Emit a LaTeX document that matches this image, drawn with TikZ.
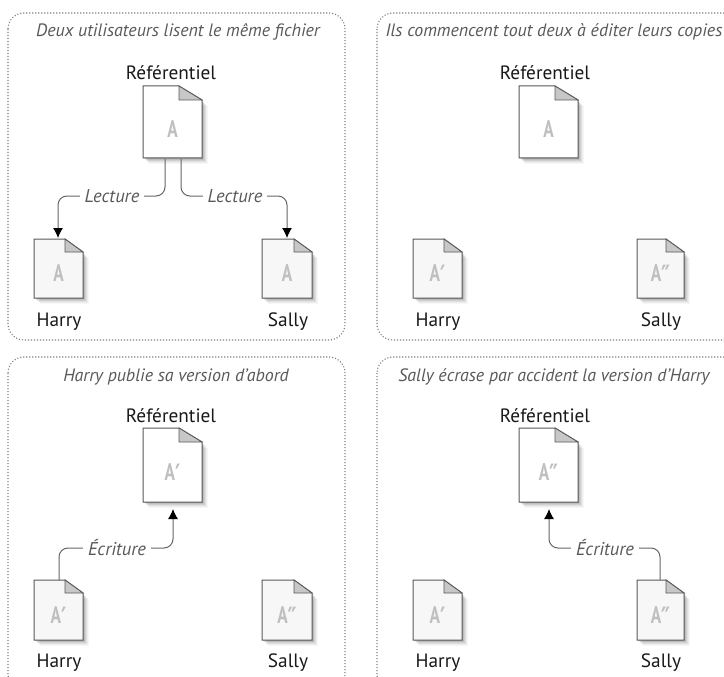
\documentclass[tikz,border=0pt]{standalone}
\usepackage{fontspec}
\setmainfont{PT Sans}
\newfontfamily\primefont{DejaVu Sans}
\usetikzlibrary{arrows.meta}
\newcommand{\onep}{\raisebox{-4pt}{\primefont\bfseries\fontsize{28}{30}\selectfont ′}}
\newcommand{\twop}{\raisebox{-4pt}{\primefont\bfseries\fontsize{28}{30}\selectfont ″}}
\tikzset{
  x=1pt,y=-1pt,
  panel/.style={draw=black!50,line width=1.1pt,dash pattern=on 1.1pt off 1.9pt,rounded corners=16pt},
  title/.style={font=\fontsize{17.9}{20}\selectfont\itshape,text=black!65,inner sep=0pt},
  who/.style={font=\fontsize{19.3}{22}\selectfont,text=black!90,inner sep=0pt},
  verb/.style={font=\fontsize{18.5}{20}\selectfont\itshape,text=black!65,fill=white,inner xsep=5pt,inner ysep=3pt},
  link/.style={draw=black!60,line width=1pt,rounded corners=9pt},
  tip/.style={-{Latex[length=10pt,width=10pt,black]}}
}
% name, left, top, right, bottom, fold width, fold height, fill, letter
\newcommand{\docicon}[9]{%
  \foreach \o/\a in {6/0.03,5/0.04,4/0.05,3/0.07,2/0.09,1/0.10}{
    \fill[black,opacity=\a] (#2+\o,#3+\o+#7) -- (#4+\o,#3+\o+#7) -- (#4+\o,#5+\o) -- (#2+\o,#5+\o) -- cycle;
  }
  \path[draw=black!65,line width=1pt,fill=#8] (#2,#3) -- (#4-#6,#3) -- (#4,#3+#7) -- (#4,#5) -- (#2,#5) -- cycle;
  \path[draw=black!65,line width=0.8pt,fill=black!22] (#4-#6,#3) -- (#4,#3+#7) -- (#4-#6,#3+#7) -- cycle;
  \node[anchor=base,inner sep=0pt,outer sep=0pt,font=\bfseries\fontsize{24}{26}\selectfont,text=black!25] (#1) at ({(#2+#4)/2},{(#3+#5)/2+0.154*(#5-#3)+4}) {\scalebox{.72}[1]{#9}};
}
\begin{document}
\begin{tikzpicture}
\useasboundingbox (0,0) rectangle (724,677);
\fill[white] (0,0) rectangle (724,677);

% ---- panels
\draw[panel] (8,13) rectangle (345,340);
\draw[panel] (377,13) rectangle (740,340);
\draw[panel] (8,357) rectangle (345,690);
\draw[panel] (377,357) rectangle (740,690);

% ---- panel 1
\node[title] (t1) at (178,32) {Deux utilisateurs lisent le même fichier};
\node[who] (r1) at (171,73) {Référentiel};
\docicon{d1}{143}{86}{202}{158}{23}{14}{white}{A}
\docicon{h1}{34}{239}{83}{298}{18}{13}{black!3}{A}
\docicon{s1}{262}{239}{312}{298}{18}{13}{black!3}{A}
\node[who] (hn1) at (59,322) {Harry};
\node[who] (sn1) at (288,322) {Sally};
\coordinate (a1) at (165,159);
\coordinate (a2) at (181,159);
\coordinate (e1) at (58,238);
\coordinate (e2) at (287,238);
\draw[link,tip] (a1) |- (58,196) -- (e1);
\draw[link,tip] (a2) |- (287,196) -- (e2);
\node[verb] (v1) at (112,196) {Lecture};
\node[verb] (v2) at (235,196) {Lecture};

% ---- panel 2
\node[title] (t2) at (554,32) {Ils commencent tout deux à éditer leurs copies};
\node[who] (r2) at (545,73) {Référentiel};
\docicon{d2}{519}{86}{578}{158}{23}{14}{white}{A}
\docicon{h2}{413}{239}{462}{298}{18}{13}{black!3}{A\onep}
\docicon{s2}{637}{239}{684}{298}{18}{13}{black!3}{A\twop}
\node[who] (hn2) at (438,322) {Harry};
\node[who] (sn2) at (661,322) {Sally};

% ---- panel 3
\node[title] (t3) at (176,377) {Harry publie sa version d'abord};
\node[who] (r3) at (171,416) {Référentiel};
\docicon{d3}{143}{428}{202}{502}{23}{14}{white}{A\onep}
\docicon{h3}{34}{580}{83}{640}{18}{13}{black!3}{A\onep}
\docicon{s3}{262}{580}{312}{640}{18}{13}{black!3}{A\twop}
\node[who] (hn3) at (59,663) {Harry};
\node[who] (sn3) at (288,663) {Sally};
\coordinate (b1) at (59,580);
\coordinate (b2) at (173,509);
\draw[link,tip] (b1) |- (173,548) -- (b2);
\node[verb] (v3) at (117,548) {Écriture};

% ---- panel 4
\node[title] (t4) at (554,377) {Sally écrase par accident la version d'Harry};
\node[who] (r4) at (545,416) {Référentiel};
\docicon{d4}{519}{428}{578}{502}{23}{14}{white}{A\twop}
\docicon{h4}{413}{580}{462}{640}{18}{13}{black!3}{A\onep}
\docicon{s4}{637}{580}{684}{640}{18}{13}{black!3}{A\twop}
\node[who] (hn4) at (438,663) {Harry};
\node[who] (sn4) at (661,663) {Sally};
\coordinate (c1) at (660,580);
\coordinate (c2) at (549,509);
\draw[link,tip] (c1) |- (549,548) -- (c2);
\node[verb] (v4) at (605,548) {Écriture};
\end{tikzpicture}
\end{document}
